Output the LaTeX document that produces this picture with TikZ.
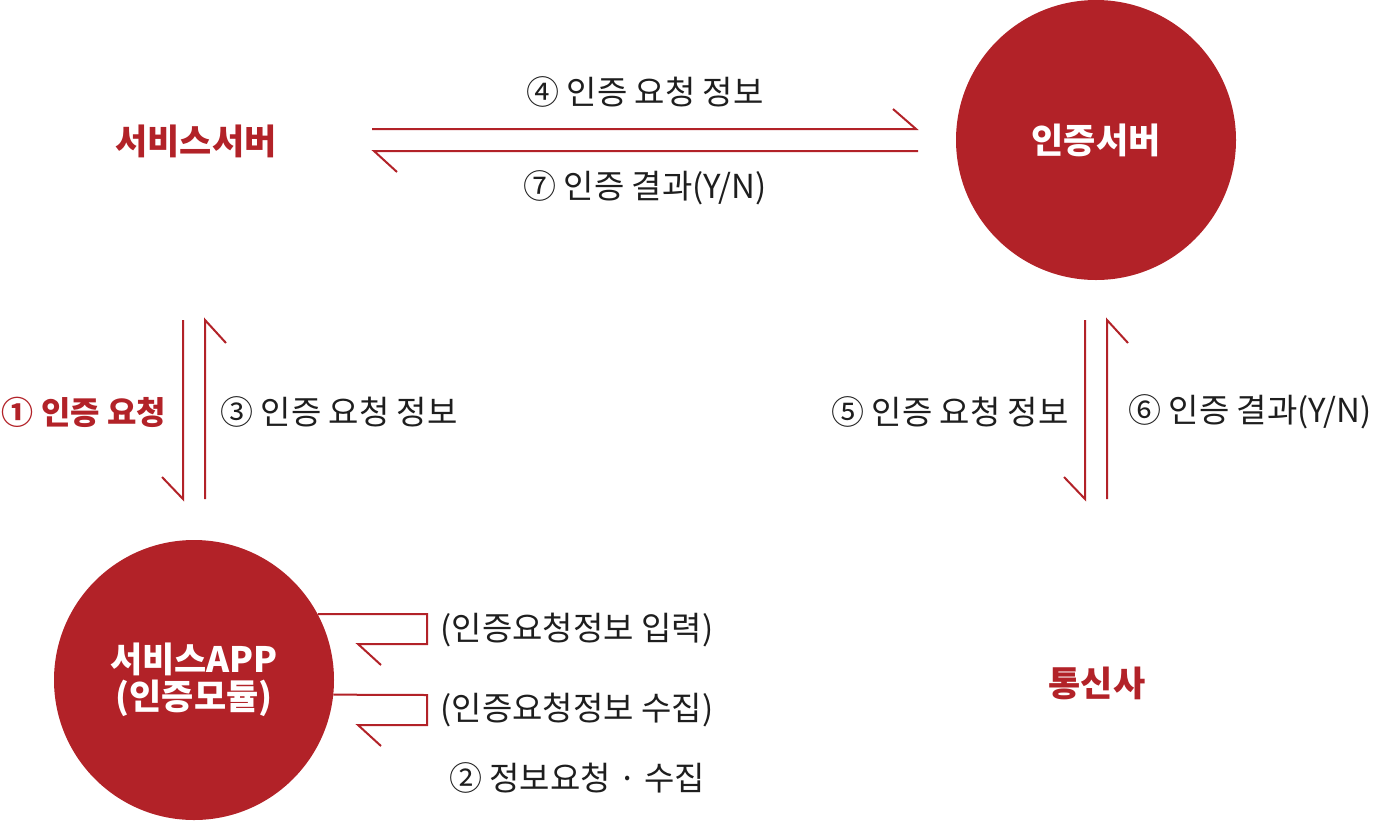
\documentclass[tikz,border=0pt]{standalone}
\usepackage{fontspec}
\setmainfont{Noto Sans CJK KR}
\usetikzlibrary{positioning}
\definecolor{certred}{RGB}{178,34,40}
\definecolor{labelgray}{RGB}{30,30,30}
\begin{document}
\begin{tikzpicture}[x=1pt,y=-1pt,
    flow/.style={certred, line width=2pt},
    party/.style={circle, fill=certred, minimum size=280pt, inner sep=0pt, text=white, font=\fontsize{35}{37}\selectfont\bfseries, align=center},
    role/.style={text=certred, font=\fontsize{35}{38}\selectfont\bfseries},
    lbl/.style={text=labelgray, font=\fontsize{33}{36}\selectfont}]
        \useasboundingbox (0,0) rectangle (1376,820);
        % Circles
        \node[party] (auth) at (1096,140) {인증서버};
        \node[party] (app) at (194,680) {서비스APP\\(인증모듈)};
        % Roles
        \node[role] (svc) at (196,141) {서비스서버};
        \node[role] (telco) at (1097,683) {통신사};

        % Server <-> auth server
        \coordinate (s1) at (372,129);
        \coordinate (a1) at (916,129);
        \coordinate (a2) at (918,151);
        \coordinate (s2) at (374,151);
        \draw[flow] (s1) -- (a1) -- ++(-23,-20);
        \draw[flow] (a2) -- (s2) -- ++(23,21);

        % Server <-> app
        \coordinate (v1) at (183,320);
        \coordinate (v2) at (183,499);
        \coordinate (v3) at (205,499);
        \coordinate (v4) at (205,320);
        \draw[flow] (v1) -- (v2) -- ++(-21,-22);
        \draw[flow] (v3) -- (v4) -- ++(21,23);

        % Auth server <-> telco
        \coordinate (t1) at (1085,320);
        \coordinate (t2) at (1085,499);
        \coordinate (t3) at (1107,499);
        \coordinate (t4) at (1107,320);
        \draw[flow] (t1) -- (t2) -- ++(-21,-22);
        \draw[flow] (t3) -- (t4) -- ++(21,23);

        % Loops on app
        \draw[flow] (app.28) -- (427,614) |- (358,644) -- ++(23,21);
        \draw[flow] (app.-6) -- (427,695) |- (358,725) -- ++(23,21);

        % Labels
        \node[lbl] (req4) at (645,92) {④ 인증 요청 정보};
        \node[lbl] (res7) at (645,188) {⑦ 인증 결과(Y/N)};
        \node[role, font=\fontsize{32}{36}\selectfont\bfseries] (req1) at (84,412) {① 인증 요청};
        \node[lbl] (req3) at (339,412) {③ 인증 요청 정보};
        \node[lbl] (req5) at (950,412) {⑤ 인증 요청 정보};
        \node[lbl] (res6) at (1250,412) {⑥ 인증 결과(Y/N)};
        \node[lbl] (input) at (577,630) {(인증요청정보 입력)};
        \node[lbl] (collect) at (577,710) {(인증요청정보 수집)};
        \node[lbl] (step2) at (577,778) {② 정보요청 · 수집};

    \end{tikzpicture}
\end{document}
